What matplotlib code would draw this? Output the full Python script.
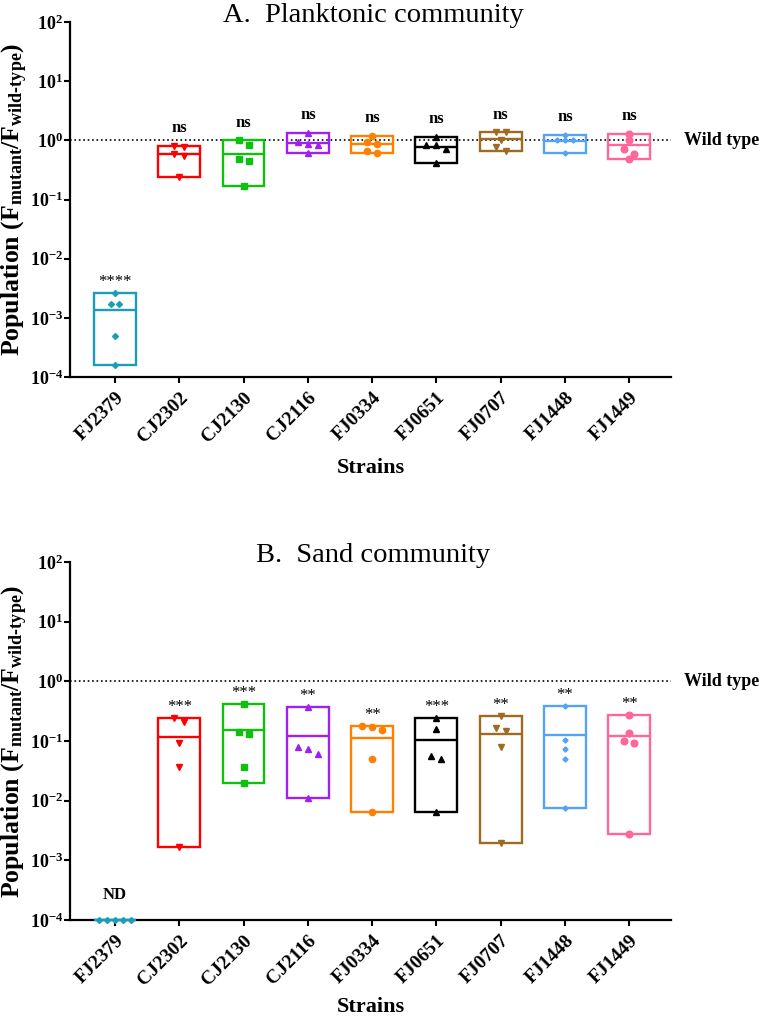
import matplotlib
matplotlib.use("Agg")
import matplotlib.pyplot as plt
import numpy as np
from matplotlib import rc
import matplotlib.ticker as ticker

rc('font', family='Liberation Serif')
rc('mathtext', fontset='custom', rm='Liberation Serif:bold',
   bf='Liberation Serif:bold', it='Liberation Serif:bold:italic')

strains = ["FJ2379", "CJ2302", "CJ2130", "CJ2116", "FJ0334",
           "FJ0651", "FJ0707", "FJ1448", "FJ1449"]
colors = ["#1b9db8", "#ff0000", "#10c010", "#a020f0", "#ff8000",
          "#000000", "#9e6b23", "#55a3f5", "#ff6699"]
markers = ["D", "v", "s", "^", "o", "^", "v", "D", "o"]
msizes = [3.0, 5.0, 4.0, 5.0, 4.5, 5.0, 5.0, 2.6, 4.8]

# F_mutant / F_wild-type, 5 replicates per strain
planktonic = [
    [2.64e-3, 1.74e-3, 1.74e-3, 4.9e-4, 1.58e-4],
    [0.80, 0.78, 0.59, 0.54, 0.24],
    [1.0, 0.84, 0.48, 0.456, 0.171],
    [1.32, 0.93, 0.87, 0.84, 0.62],
    [1.19, 0.92, 0.87, 0.665, 0.62],
    [1.13, 0.84, 0.82, 0.70, 0.41],
    [1.37, 1.37, 1.0, 0.78, 0.65],
    [1.24, 1.02, 1.02, 1.02, 0.61],
    [1.30, 1.02, 0.71, 0.59, 0.48],
]
planktonic_sig = ["****", "ns", "ns", "ns", "ns", "ns", "ns", "ns", "ns"]

sand = [
    [1e-4, 1e-4, 1e-4, 1e-4, 1e-4],
    [0.245, 0.205, 0.094, 0.036, 0.00165],
    [0.424, 0.144, 0.130, 0.036, 0.0196],
    [0.377, 0.0795, 0.0728, 0.0617, 0.0109],
    [0.179, 0.1745, 0.151, 0.0508, 0.00634],
    [0.247, 0.1616, 0.0562, 0.0495, 0.00634],
    [0.262, 0.168, 0.147, 0.0807, 0.00194],
    [0.386, 0.104, 0.0748, 0.0508, 0.0074],
    [0.273, 0.135, 0.100, 0.0917, 0.00275],
]
sand_sig = ["ND", "***", "***", "**", "**", "***", "**", "**", "**"]


def swarm(ax, x, vals, step):
    # spread points that sit too close together (in pixels) sideways
    pts = ax.transData.transform(np.column_stack([np.full(len(vals), x), vals]))
    ly = pts[:, 1]
    order = np.argsort(-ly)
    groups = [[order[0]]]
    for i in order[1:]:
        if ly[groups[-1][-1]] - ly[i] < 0.5 * step:
            groups[-1].append(i)
        else:
            groups.append([i])
    px = np.zeros(len(vals))
    for g in groups:
        n = len(g)
        for k, i in enumerate(g):
            px[i] = (k - (n - 1) / 2) * step
    out = ax.transData.inverted().transform(np.column_stack([pts[:, 0] + px, pts[:, 1]]))
    return out[:, 0]


def panel(ax, data, sig, title, xpad):
    ax.set_yscale('log')
    ax.set_ylim(1e-4, 1e2)
    ax.set_xlim(-0.7, 8.65)
    ax.axhline(1, color='k', ls=':', lw=1.2, zorder=1)
    x = np.arange(len(strains))
    for i, vals in enumerate(data):
        vals = np.array(vals)
        lo, hi, mean = vals.min(), vals.max(), vals.mean()
        ax.bar(i, hi - lo, bottom=lo, width=0.65, fill=False,
               edgecolor=colors[i], linewidth=1.7, zorder=3, clip_on=False)
        ax.hlines(mean, i - 0.325, i + 0.325, color=colors[i], lw=1.7, zorder=3)
        step = 8 if markers[i] == "D" else 10
        xs = swarm(ax, i, vals, step)
        ax.plot(xs, vals, ls='none', marker=markers[i], ms=msizes[i],
                color=colors[i], zorder=4, clip_on=False)
        bold = sig[i] != "*" * len(sig[i])
        if sig[i] == "ND":
            ax.annotate(sig[i], (i, lo), xytext=(0, 12), textcoords='offset points',
                        ha='center', va='bottom', fontsize=12, fontweight='bold')
        else:
            ax.annotate(sig[i], (i, hi), xytext=(0, 7 if bold else 2),
                        textcoords='offset points', ha='center', va='bottom',
                        fontsize=12, fontweight='bold' if bold else 'normal')
    ax.annotate("Wild type", (1, 1), xycoords=('axes fraction', 'data'),
                xytext=(9, 0), textcoords='offset points', ha='left', va='center',
                fontsize=13, fontweight='bold', annotation_clip=False)

    ax.set_xticks(x)
    ax.set_xticklabels(strains, rotation=45, ha='right', va='top',
                       rotation_mode='anchor', fontsize=14, fontweight='bold')
    ax.yaxis.set_major_locator(ticker.LogLocator(base=10, numticks=10))
    ax.yaxis.set_minor_locator(ticker.NullLocator())
    ax.yaxis.set_major_formatter(ticker.FuncFormatter(
        lambda v, p: r'$\mathbf{10^{%d}}$' % int(round(np.log10(v)))))
    ax.tick_params(axis='y', labelsize=13, length=4.5, width=1.5, pad=0.5)
    ax.tick_params(axis='x', length=4.5, width=1.5, pad=4)
    for s in ['top', 'right']:
        ax.spines[s].set_visible(False)
    for s in ['left', 'bottom']:
        ax.spines[s].set_linewidth(1.6)
    ax.set_xlabel("Strains", fontsize=16, fontweight='bold', labelpad=xpad)
    ax.set_ylabel('Population (F$_{\\mathbf{mutant}}$/F$_{\\mathbf{wild\u2010type}}$)',
                  fontsize=18.5, fontweight='bold')
    ax.yaxis.set_label_coords(-0.067, 0.5)
    ax.set_title(title, fontsize=20.5, pad=0, y=1.0)
    ax.title.set_position((0.505, 1.0))


fig = plt.figure(figsize=(7.62, 10.18), dpi=100)
axA = fig.add_axes([70 / 762, 1 - 377 / 1018, 601 / 762, 355 / 1018])
axB = fig.add_axes([70 / 762, 1 - 920 / 1018, 601 / 762, 358 / 1018])
panel(axA, planktonic, planktonic_sig, "A.  Planktonic community", 9)
panel(axB, sand, sand_sig, "B.  Sand community", 6)

fig.savefig("out.png", dpi=100)
